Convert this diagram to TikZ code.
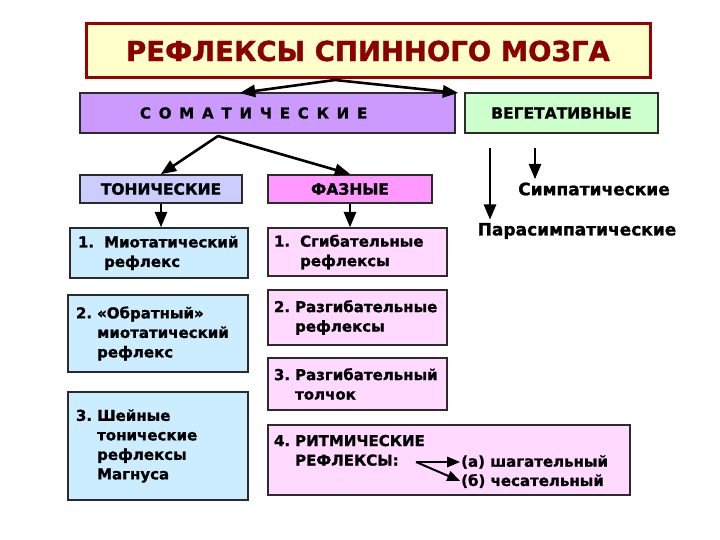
\documentclass[tikz,border=0pt]{standalone}
\usepackage{fontspec}
\setmainfont{DejaVu Sans}[BoldFeatures={FakeBold=1.2}]
\newfontfamily\spacedfont{DejaVu Sans}[LetterSpace=52, BoldFeatures={FakeBold=1.2, LetterSpace=52}]
\usetikzlibrary{arrows}
\definecolor{titlefill}{HTML}{FFFFCC}
\definecolor{titleline}{HTML}{990000}
\definecolor{titletext}{HTML}{8B0000}
\definecolor{boxline}{HTML}{2B2B2B}
\definecolor{somfill}{HTML}{CC99FF}
\definecolor{vegfill}{HTML}{CCFFCC}
\definecolor{tonfill}{HTML}{CCCCFF}
\definecolor{fazfill}{HTML}{FF99FF}
\definecolor{bluebox}{HTML}{CCECFF}
\definecolor{pinkbox}{HTML}{FFD9FF}

\begin{document}
\begin{tikzpicture}[x=1pt, y=-1pt,
    font=\bfseries\fontsize{15}{19.5}\selectfont,
    box/.style={draw=boxline, line width=1.8pt, inner xsep=8pt, align=left},
    head/.style={box, align=center, font=\bfseries\fontsize{15.5}{18}\selectfont},
    arr/.style={line width=2.6pt, -triangle 45}]
  \useasboundingbox[fill=white] (0,0) rectangle (720,540);
  % top of the tree
  \node[box, fill=titlefill, draw=titleline, line width=3pt, align=center,
        minimum width=564pt, minimum height=54pt, text=titletext,
        font=\bfseries\fontsize{27.5}{30}\selectfont] (title) at (368,51) {РЕФЛЕКСЫ СПИННОГО МОЗГА};
  \node[box, fill=somfill, text width=359pt, minimum height=40pt]
        (som) at (267.5,113) {\hspace*{52pt}\spacedfont\bfseries СОМАТИЧЕСКИЕ};
  \node[head, fill=vegfill, minimum width=193pt, minimum height=40pt] (veg) at (561.5,113) {ВЕГЕТАТИВНЫЕ};
  \coordinate (ts) at (335,80);
  \coordinate (sa) at (240,93);
  \coordinate (va) at (458,93);
  \draw[arr] (ts) -- (sa);
  \draw[arr] (ts) -- (va);
  % somatic
  \node[head, fill=tonfill, minimum width=162pt, minimum height=28pt] (ton) at (161,189) {ТОНИЧЕСКИЕ};
  \node[head, fill=fazfill, minimum width=164pt, minimum height=28pt] (faz) at (350,189) {ФАЗНЫЕ};
  \coordinate (ss) at (218,136);
  \draw[arr] (ss) -- (ton.north);
  \draw[arr] (ss) -- (faz.north);
  \node[box, fill=bluebox, text width=162pt, minimum height=50pt] (t1) at (159,253)
        {1.~~Миотатический\\\phantom{1.~~}рефлекс};
  \node[box, fill=bluebox, text width=164pt, minimum height=77pt] (t2) at (158,333.5)
        {2.~«Обратный»\\\phantom{2.~}миотатический\\\phantom{2.~}рефлекс};
  \node[box, fill=bluebox, text width=164pt, minimum height=108pt] (t3) at (158,446)
        {3.~Шейные\\\phantom{3.~}тонические\\\phantom{3.~}рефлексы\\\phantom{3.~}Магнуса};
  \node[box, fill=pinkbox, inner xsep=6pt, text width=167pt, minimum height=48pt] (f1) at (357.5,252)
        {1.~~Сгибательные\\\phantom{1.~~}рефлексы};
  \node[box, fill=pinkbox, inner xsep=6pt, text width=167pt, minimum height=55pt] (f2) at (357.5,317.5)
        {2.~Разгибательные\\\phantom{2.~}рефлексы};
  \node[box, fill=pinkbox, inner xsep=6pt, text width=167pt, minimum height=52pt] (f3) at (357.5,384)
        {3.~Разгибательный\\\phantom{3.~}толчок};
  \node[box, fill=pinkbox, inner xsep=6pt, text width=350pt, minimum height=70pt] (f4) at (449,460)
        {4.~РИТМИЧЕСКИЕ\\\phantom{4.~}РЕФЛЕКСЫ:\\\mbox{}};
  \draw[arr] (ton.south) -- (ton.south |- t1.north);
  \draw[arr] (faz.south) -- (faz.south |- f1.north);
  \node[anchor=west, inner sep=1pt] (wa) at (460,462) {(а) шагательный};
  \node[anchor=west, inner sep=1pt] (wb) at (460,481) {(б) чесательный};
  \coordinate (rs) at (416,462);
  \draw[arr, line width=2pt] (rs) -- (wa.west);
  \draw[arr, line width=2pt] (rs) -- (wb.west);
  % vegetative
  \node[font=\bfseries\fontsize{17}{20}\selectfont] (simp) at (594,189) {Симпатические};
  \node[font=\bfseries\fontsize{17}{20}\selectfont] (para) at (577,231) {Парасимпатические};
  \coordinate (vs) at (535,148);
  \coordinate (vp) at (490,148);
  \draw[arr] (vs) -- (vs |- simp.north);
  \draw[arr] (vp) -- (vp |- para.north);
\end{tikzpicture}
\end{document}
